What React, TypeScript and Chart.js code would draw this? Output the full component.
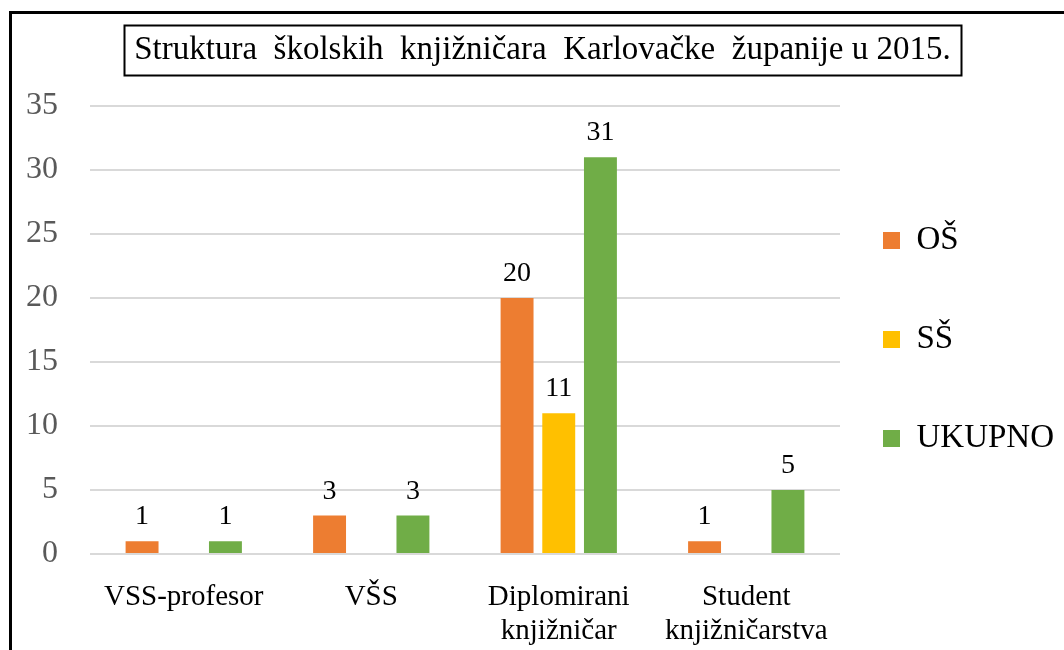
import React, { useEffect, useRef } from "react";
import { Chart, registerables } from "chart.js";

Chart.register(...registerables);

const TITLE = "Struktura  školskih  knjižničara  Karlovačke  županije u 2015.";
const categories: (string | string[])[] = [
  "VSS-profesor",
  "VŠS",
  ["Diplomirani", "knjižničar"],
  ["Student", "knjižničarstva"],
];
const seriesNames = ["OŠ", "SŠ", "UKUPNO"];
const osValues: (number | null)[] = [1, 3, 20, 1];
const ssValues: (number | null)[] = [null, null, 11, null];
const ukupnoValues: (number | null)[] = [1, 3, 31, 5];
const yMin = 0;
const yMax = 35;
const yStep = 5;
const seriesColors = ["#ED7D31", "#FFC000", "#70AD47"];

const SERIF = "'Liberation Serif', 'Times New Roman', serif";

const decorPlugin = {
  id: "decor",
  afterLayout(chart: any) {
    const lg = chart.legend;
    if (lg) {
      lg.top += 26;
      lg.bottom += 26;
    }
  },
  afterDraw(chart: any) {
    const ctx = chart.ctx;
    ctx.save();
    // outer frame
    ctx.strokeStyle = "#000";
    ctx.lineWidth = 3;
    ctx.strokeRect(10.5, 12.5, 1300, 900);
    // title box
    const tb = chart.titleBlock;
    if (tb) {
      const opts = tb.options;
      ctx.font = `${opts.font.size}px ${SERIF}`;
      const w = ctx.measureText(TITLE).width;
      const cx = (tb.left + tb.right) / 2;
      const cy = tb.top + opts.padding.top + (opts.font.size * 1.2) / 2;
      ctx.lineWidth = 2;
      ctx.strokeRect(Math.round(cx - w / 2 - 10) + 0.5, Math.round(cy - 25) + 0.5, Math.round(w + 20), 50);
    }
    ctx.restore();
  },
};

const valueLabelPlugin = {
  id: "valueLabels",
  afterDatasetsDraw(chart: any) {
    const ctx = chart.ctx;
    ctx.save();
    ctx.font = `28px ${SERIF}`;
    ctx.fillStyle = "#000";
    ctx.textAlign = "center";
    ctx.textBaseline = "alphabetic";
    chart.data.datasets.forEach((ds: any, i: number) => {
      const meta = chart.getDatasetMeta(i);
      meta.data.forEach((bar: any, j: number) => {
        const v = ds.data[j];
        if (v === null || v === undefined) return;
        ctx.fillText(String(v), bar.x, bar.y - 17);
      });
    });
    ctx.restore();
  },
};

export default function App() {
  const canvasRef = useRef<HTMLCanvasElement | null>(null);

  useEffect(() => {
    if (!canvasRef.current) return;
    const chart = new Chart(canvasRef.current, {
      type: "bar",
      data: {
        labels: categories as any,
        datasets: [
          { label: seriesNames[0], data: osValues, backgroundColor: seriesColors[0] },
          { label: seriesNames[1], data: ssValues, backgroundColor: seriesColors[1] },
          { label: seriesNames[2], data: ukupnoValues, backgroundColor: seriesColors[2] },
        ],
      },
      options: {
        responsive: false,
        animation: false,
        events: [],
        layout: { padding: { left: 26, top: 0, right: 5, bottom: 0 } },
        datasets: {
          bar: { categoryPercentage: 0.667, barPercentage: 0.79 },
        },
        scales: {
          x: {
            grid: { display: false },
            border: { display: false },
            ticks: {
              font: { family: SERIF, size: 29, lineHeight: 1.17 },
              color: "#000",
              padding: 18,
              maxRotation: 0,
              autoSkip: false,
            },
            afterFit(scale: any) {
              scale.height = 96;
            },
          },
          y: {
            min: yMin,
            max: yMax,
            grid: { color: "#d9d9d9", lineWidth: 2, drawTicks: false },
            border: { display: false },
            ticks: {
              stepSize: yStep,
              font: { family: SERIF, size: 32 },
              color: "#595959",
              padding: 32,
            },
            afterFit(scale: any) {
              scale.width = 64;
            },
          },
        },
        plugins: {
          title: {
            display: true,
            text: TITLE,
            color: "#000",
            font: { family: SERIF, size: 33, weight: "normal", lineHeight: 1.2 },
            padding: { top: 30.2, bottom: 36.2 },
          },
          legend: {
            position: "right",
            align: "center",
            maxWidth: 219,
            labels: {
              boxWidth: 17,
              boxHeight: 17,
              padding: 43,
              color: "#000",
              font: { family: SERIF, size: 33, lineHeight: 1.697 },
              generateLabels(ch: any) {
                const base = Chart.defaults.plugins.legend.labels.generateLabels(ch);
                return base.map((it: any) => ({ ...it, text: [it.text], lineWidth: 0 }));
              },
            },
          },
          tooltip: { enabled: false },
        },
      },
      plugins: [decorPlugin, valueLabelPlugin],
    } as any);
    return () => chart.destroy();
  }, []);

  return (
    <div style={{ position: "fixed", left: 0, top: 0, width: 1064, height: 650, background: "#fff" }}>
      <canvas ref={canvasRef} width={1064} height={650} style={{ display: "block" }} />
    </div>
  );
}
